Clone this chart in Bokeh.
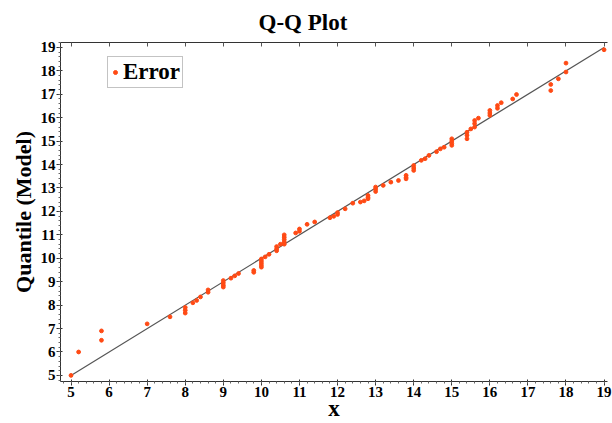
from bokeh.plotting import figure
from bokeh.models import LinearAxis, Range1d, FixedTicker, Legend, LegendItem
from bokeh.embed import file_html
from bokeh.resources import INLINE

# ---- data ----
x_vals = [5.0, 5.2, 5.8, 5.8, 7.0, 7.6, 8.0, 8.0, 8.0, 8.2, 8.3, 8.4, 8.6, 8.6,
          9.0, 9.0, 9.0, 9.0, 9.2, 9.3, 9.4, 9.8, 9.8,
          10.0, 10.0, 10.0, 10.0, 10.0, 10.1, 10.2, 10.4, 10.4, 10.4, 10.5,
          10.6, 10.6, 10.6, 10.6, 10.6, 10.9, 11.0, 11.0, 11.2, 11.4,
          11.8, 11.9, 12.0, 12.0, 12.2, 12.4, 12.6, 12.7, 12.8, 12.8, 12.8,
          13.0, 13.0, 13.0, 13.2, 13.4, 13.6, 13.8, 13.8, 13.8,
          14.0, 14.0, 14.0, 14.2, 14.3, 14.4, 14.6, 14.7, 14.8,
          15.0, 15.0, 15.0, 15.0, 15.4, 15.4, 15.4, 15.5, 15.6, 15.6, 15.6, 15.7,
          16.0, 16.0, 16.0, 16.2, 16.2, 16.3, 16.6, 16.7,
          17.6, 17.6, 17.8, 18.0, 18.0, 19.0]
y_vals = [5.0, 6.0, 6.9, 6.5, 7.2, 7.5, 7.9, 7.78, 7.66, 8.1, 8.2, 8.35, 8.55, 8.65,
          9.05, 8.95, 8.85, 8.77, 9.15, 9.25, 9.35, 9.48, 9.4,
          9.97, 9.88, 9.79, 9.7, 9.62, 10.06, 10.17, 10.5, 10.4, 10.32, 10.6,
          11.0, 10.9, 10.8, 10.7, 10.6, 11.08, 11.15, 11.25, 11.45, 11.55,
          11.73, 11.79, 11.87, 11.95, 12.11, 12.35, 12.4, 12.45, 12.68, 12.6, 12.54,
          13.04, 12.95, 12.85, 13.11, 13.25, 13.32, 13.54, 13.45, 13.39,
          13.96, 13.85, 13.75, 14.18, 14.25, 14.39, 14.55, 14.67, 14.74,
          15.1, 15.0, 14.9, 14.82, 15.38, 15.25, 15.1, 15.52, 15.88, 15.75, 15.6, 15.98,
          16.31, 16.2, 16.1, 16.52, 16.4, 16.64, 16.8, 16.99,
          17.42, 17.16, 17.66, 18.33, 17.95, 18.9]
ref_x = [5, 19]
ref_y = [5, 19]
tick_vals = list(range(5, 20))

SERIF = "Liberation Serif"

p = figure(width=612, height=423, output_backend="svg", toolbar_location=None,
           x_range=Range1d(4.724, 19.09), y_range=Range1d(4.74, 19.21),
           min_border_left=60, min_border_right=5, min_border_top=5, min_border_bottom=4,
           x_axis_label="x", y_axis_label="Quantile (Model)")
p.xgrid.visible = False
p.ygrid.visible = False
p.outline_line_color = None
p.background_fill_color = "white"

p.title.text = "Q-Q Plot"
p.title.align = "left"
p.title.offset = 198
p.title.text_font = SERIF
p.title.text_font_size = "23px"
p.title.text_font_style = "bold"
p.title.text_color = "black"
p.title.standoff = 15

for ax in (p.xaxis[0], p.yaxis[0]):
    ax.ticker = FixedTicker(ticks=tick_vals,
                            minor_ticks=[t / 5 for t in range(20, 100)])
    ax.major_label_text_font = SERIF
    ax.major_label_text_font_style = "bold"
    ax.major_label_text_font_size = "15px"
    ax.major_label_text_color = "black"
    ax.axis_label_text_font = SERIF
    ax.axis_label_text_font_style = "bold"
    ax.axis_label_text_font_size = "23px"
    ax.axis_label_text_color = "black"
    ax.axis_line_color = "#333333"
    ax.major_tick_line_color = "#333333"
    ax.minor_tick_line_color = "#666666"
    ax.major_tick_in = 2
    ax.major_tick_out = 4
    ax.minor_tick_in = 0
    ax.minor_tick_out = 2
    ax.major_label_standoff = 1
    ax.axis_label_standoff = 0
p.xaxis[0].axis_label_standoff = -4
p.yaxis[0].axis_label_text_font_size = "22px"
p.yaxis[0].axis_label_standoff = 2

top = LinearAxis(ticker=FixedTicker(ticks=tick_vals))
top.major_label_text_alpha = 0
top.major_label_text_font_size = "1px"
top.major_tick_in = 4
top.major_tick_out = 0
top.minor_tick_line_color = None
top.axis_line_color = "#333333"
top.major_tick_line_color = "#555555"
p.add_layout(top, "above")

p.line(ref_x, ref_y, line_color="#555555", line_width=1.2)
pts = p.scatter(x_vals, y_vals, size=3.8, marker="circle",
                fill_color="#FF4A14", line_color="#FF4A14")

legend = Legend(items=[LegendItem(label="Error", renderers=[pts])],
                location=(47, 293))
legend.margin = 0
legend.label_text_font = SERIF
legend.label_text_font_style = "bold"
legend.label_text_font_size = "23px"
legend.label_text_color = "black"
legend.glyph_width = 10
legend.glyph_height = 10
legend.label_standoff = 3
legend.padding = 2
legend.border_line_color = "#888888"
legend.border_line_width = 1
legend.background_fill_color = "white"
p.add_layout(legend, "center")

open("out.html", "w").write(file_html(p, INLINE))
